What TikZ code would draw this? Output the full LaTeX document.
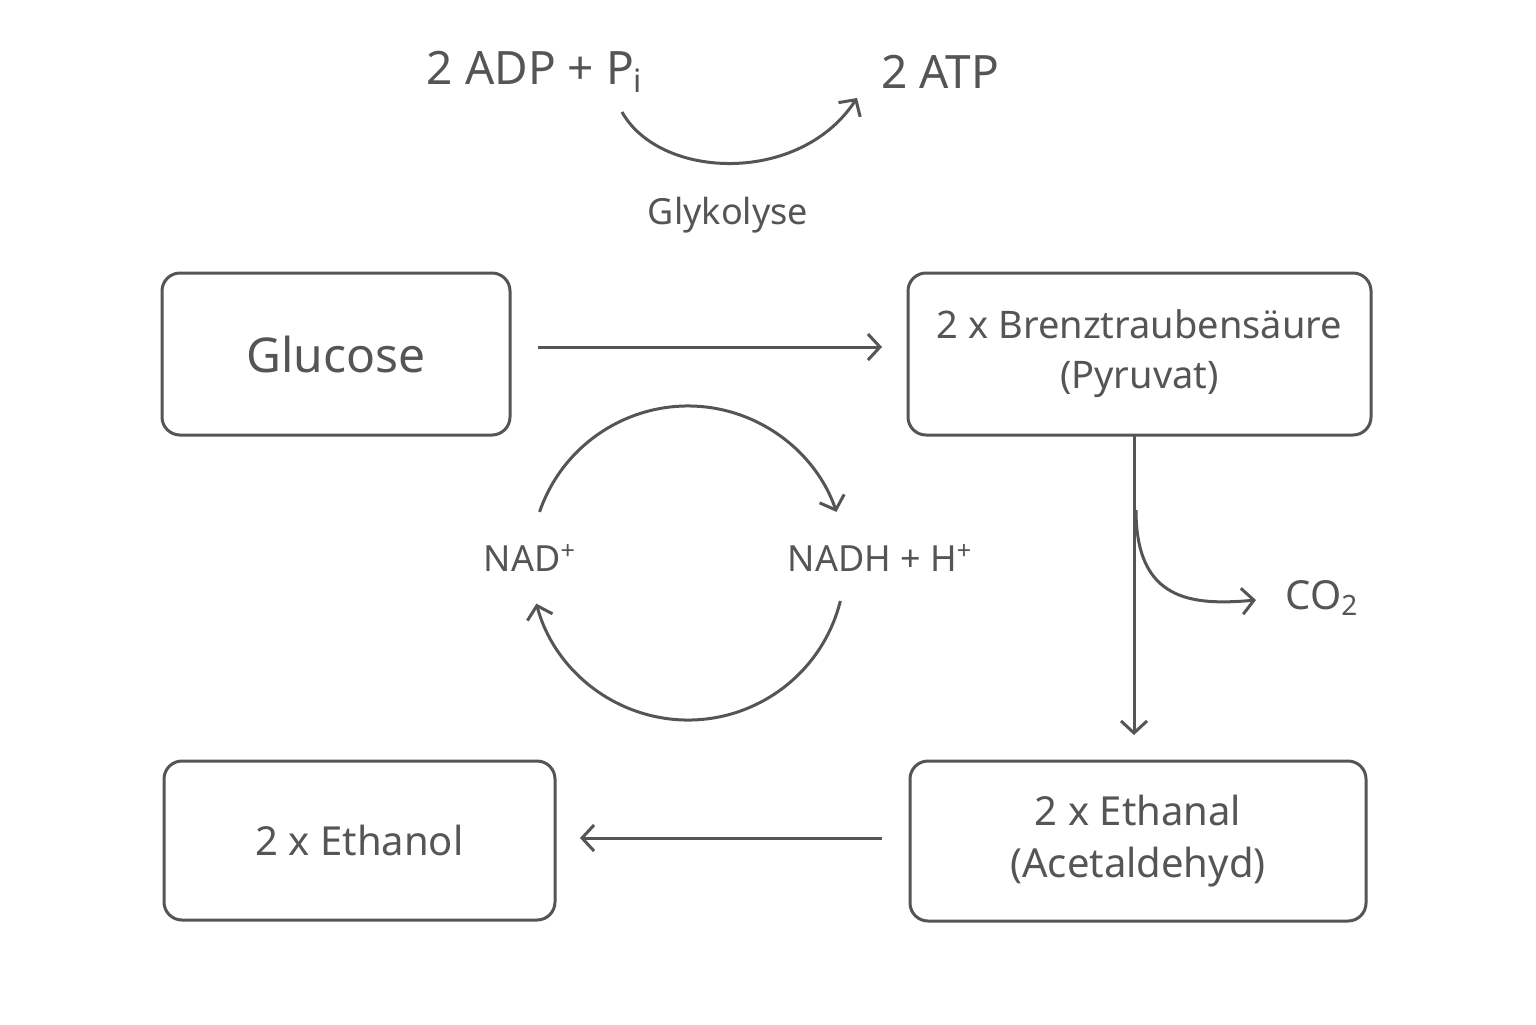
\documentclass[tikz,border=0pt]{standalone}
\usepackage{fontspec}
\setmainfont{Noto Sans}
\usetikzlibrary{arrows.meta}
\definecolor{ink}{HTML}{555555}
\begin{document}
\begin{tikzpicture}[x=0.5pt,y=-0.5pt,
  box/.style={draw=ink,line width=1.5pt,rounded corners=9pt,text=ink,align=center,inner sep=0pt},
  lbl/.style={text=ink,inner sep=0pt},
  con/.style={draw=ink,line width=1.5pt,-{Straight Barb[length=6pt,width=13pt,line width=1.5pt]}}]
\useasboundingbox[fill=white] (0,0) rectangle (1536,1024);
\node[box,minimum width=174pt,minimum height=81pt,font=\fontsize{24}{28}\selectfont] (glu) at (336,354) {Glucose};
\node[box,minimum width=231.5pt,minimum height=81pt,font=\fontsize{19}{25}\selectfont] (pyr) at (1139.5,354) {2 x Brenztraubensäure\\(Pyruvat)};
\node[box,minimum width=195.5pt,minimum height=79.5pt,font=\fontsize{20}{26}\selectfont] (eth) at (359.5,840.5) {2 x Ethanol};
\node[box,minimum width=228pt,minimum height=80pt,font=\fontsize{20}{26}\selectfont] (eal) at (1138,841) {2 x Ethanal\\(Acetaldehyd)};
\node[lbl,font=\fontsize{23}{28}\selectfont] (adp) at (535,72) {2 ADP + P\textsubscript{i}};
\node[lbl,font=\fontsize{23}{28}\selectfont] (atp) at (940,72) {2 ATP};
\node[lbl,font=\fontsize{18}{22}\selectfont] (gly) at (728,215) {Glykolyse};
\node[lbl,font=\fontsize{18}{22}\selectfont] (nad) at (530,558) {NAD\textsuperscript{+}};
\node[lbl,font=\fontsize{18}{22}\selectfont] (nadh) at (880,558) {NADH + H\textsuperscript{+}};
\node[lbl,font=\fontsize{20}{24}\selectfont] (co2) at (1322,598) {CO\textsubscript{2}};
\coordinate (a1) at (538,347); \coordinate (a2) at (882,347);
\draw[con] (a1) -- (a2);
\coordinate (b1) at (882,838); \coordinate (b2) at (580,838);
\draw[con] (b1) -- (b2);
\coordinate (c1) at (1134,435); \coordinate (c2) at (1134,735);
\draw[con] (c1) -- (c2);
\coordinate (d1) at (1136,510); \coordinate (d2) at (1256,600);
\draw[con] (d1) .. controls (1136,600) and (1190,606) .. (d2);
\coordinate (e1) at (622,112); \coordinate (e2) at (857,98);
\draw[con] (e1) .. controls (660,180) and (800,185) .. (e2);
\coordinate (cc) at (688,563);
\draw[con] ([shift={(199:157)}]cc) arc[start angle=199,end angle=341,radius=157];
\draw[con] ([shift={(14:157)}]cc) arc[start angle=14,end angle=165,radius=157];
\end{tikzpicture}
\end{document}
